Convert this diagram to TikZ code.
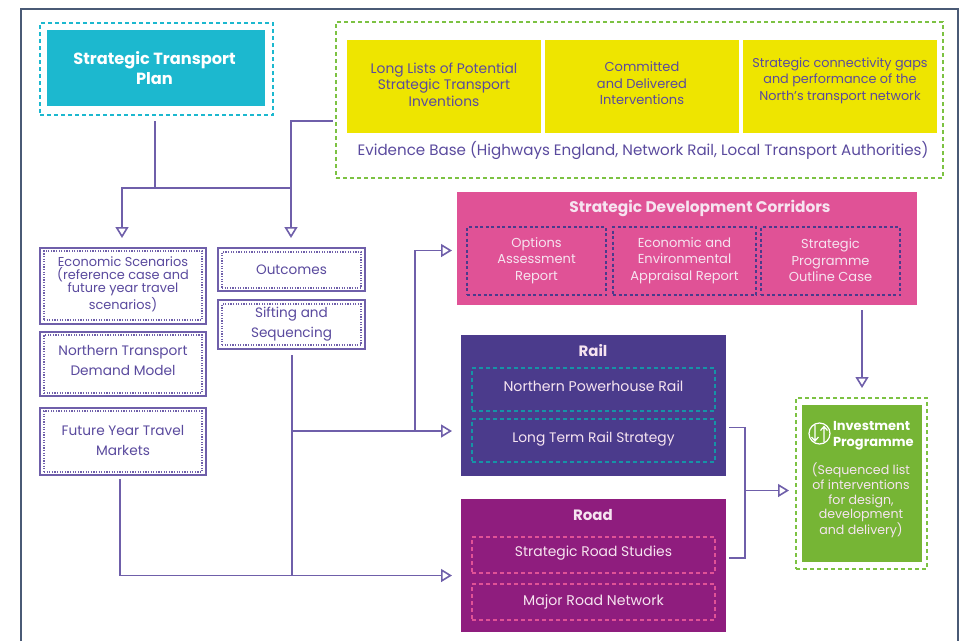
\documentclass[tikz,border=0pt]{standalone}
\usepackage{fontspec}
\setmainfont{Poppins}
\usetikzlibrary{arrows.meta,calc}
\definecolor{frameC}{HTML}{4A5A75}
\definecolor{lineC}{HTML}{6F5FAA}
\definecolor{txtC}{HTML}{5A4A9E}
\definecolor{tealC}{HTML}{1CB8CF}
\definecolor{yelC}{HTML}{EEE500}
\definecolor{pinkC}{HTML}{E05296}
\definecolor{railC}{HTML}{4B3B8C}
\definecolor{roadC}{HTML}{8F1D7E}
\definecolor{grnC}{HTML}{76B535}
\definecolor{dashG}{HTML}{7CC242}
\definecolor{softW}{HTML}{F6E4F0}
\newcommand{\fs}[2]{\fontsize{#1}{#2}\selectfont}
\newcommand{\bx}[7]{\node[#6,minimum width={#4-#2},minimum height={#5-#3}] (#1) at ({(#2+#4)/2},{(#3+#5)/2}) {#7};}
\tikzset{
 x=1pt,y=-1pt,
 every node/.style={inner sep=0pt,outer sep=0pt,align=center},
 conn/.style={draw=lineC,line width=1.6pt},
 arr/.style={conn,-{Triangle[open,fill=white,length=11pt,width=13pt,line width=1.6pt]}},
 dsh/.style={line width=1.4pt,dash pattern=on 4pt off 3pt},
 solidbox/.style={draw=lineC,line width=1.5pt,fill=white},
 dotbox/.style={draw=lineC,line width=1.2pt,dash pattern=on 1.2pt off 1.4pt},
 dd/.style={draw=railC,line width=1.4pt,dash pattern=on 3pt off 2.5pt},
 td/.style={draw=tealC!80!black,dsh},
 pd/.style={draw=pinkC,dsh},
 lab/.style={text=txtC},
 labw/.style={text=softW},
}
\begin{document}
\begin{tikzpicture}
\useasboundingbox (0,0) rectangle (962,641);
\draw[frameC,line width=2pt] (20.5,641) -- (20.5,8.5) -- (958,8.5) -- (958,641);
% strategic transport plan
\bx{stpo}{40}{23}{273}{115}{draw=tealC,dsh}{}
\bx{stp}{47}{30}{265}{106}{fill=tealC}{}
\node[text=white,font=\bfseries\fs{16.2}{20}] (stpt) at (154.5,68) {Strategic Transport\\Plan};
% evidence
\bx{evo}{336}{22}{943}{178}{draw=dashG,dsh}{}
\bx{y1}{347}{40}{541}{133}{fill=yelC}{}
\bx{y2}{545}{40}{739}{133}{fill=yelC}{}
\bx{y3}{743}{40}{937}{133}{fill=yelC}{}
\node[lab,font=\fs{13.8}{16.5}] (y1t) at (444,84.5) {Long Lists of Potential\\Strategic Transport\\Inventions};
\node[lab,font=\fs{13}{16.5}] (y2t) at (642,83.5) {Committed\\and Delivered\\Interventions};
\node[lab,font=\fs{12.8}{16.5}] (y3t) at (840,80.5) {Strategic connectivity gaps\\and performance of the\\North's transport network};
\node[lab,font=\fs{15.1}{18}] (evt) at (643,150) {Evidence Base (Highways England, Network Rail, Local Transport Authorities)};
% left boxes
\bx{eco}{40}{248}{206}{324}{solidbox}{}
\bx{eci}{44}{251}{202}{320}{dotbox}{}
\node[lab,font=\fs{12.9}{13.3}] (ect) at (123,284) {Economic Scenarios\\(reference case and\\future year travel\\scenarios)};
\bx{nto}{40}{332}{206}{396}{solidbox}{}
\bx{nti}{44}{335}{202}{393}{dotbox}{}
\node[lab,font=\fs{13.7}{20}] (ntt) at (123,360) {Northern Transport\\Demand Model};
\bx{fyo}{40}{408}{206}{475}{solidbox}{}
\bx{fyi}{44}{411}{202}{472}{dotbox}{}
\node[lab,font=\fs{13.7}{20}] (fyt) at (123,440.5) {Future Year Travel\\Markets};
\bx{ouo}{218}{248}{365}{291}{solidbox}{}
\bx{oui}{222}{252}{361}{288}{dotbox}{}
\node[lab,font=\fs{13.6}{16}] (out) at (291.5,269.5) {Outcomes};
\bx{sio}{218}{300}{365}{349}{solidbox}{}
\bx{sii}{222}{304}{361}{345}{dotbox}{}
\node[lab,font=\fs{13.6}{20}] (sit) at (291.5,324.5) {Sifting and\\Sequencing};
% SDC
\bx{sdc}{457}{192}{917}{305}{fill=pinkC}{}
\node[text=softW,font=\bfseries\fs{15.4}{18}] (sdct) at (700,208.5) {Strategic Development Corridors};
\bx{s1}{467}{227}{606}{295}{dd}{}
\bx{s2}{613}{227}{756}{295}{dd}{}
\bx{s3}{761}{227}{900}{295}{dd}{}
\node[labw,font=\fs{13}{16.5}] (s1t) at (536.5,260.5) {Options\\Assessment\\Report};
\node[labw,font=\fs{13}{16.5}] (s2t) at (684.5,260.5) {Economic and\\Environmental\\Appraisal Report};
\node[labw,font=\fs{13}{16.5}] (s3t) at (830.5,260.5) {Strategic\\Programme\\Outline Case};
% Rail
\bx{rail}{461}{335}{726}{476}{fill=railC}{}
\node[text=softW,font=\bfseries\fs{15}{18}] (railt) at (593,351) {Rail};
\bx{r1}{472}{368}{715}{411}{td}{}
\bx{r2}{472}{419}{715}{462}{td}{}
\node[labw,font=\fs{14.1}{16}] (r1t) at (593.5,386.5) {Northern Powerhouse Rail};
\node[labw,font=\fs{13.8}{16}] (r2t) at (593.5,439.5) {Long Term Rail Strategy};
% Road
\bx{road}{461}{499}{726}{632}{fill=roadC}{}
\node[text=softW,font=\bfseries\fs{15}{18}] (roadt) at (593,515) {Road};
\bx{d1}{472}{537}{715}{573}{pd}{}
\bx{d2}{472}{584}{715}{620}{pd}{}
\node[labw,font=\fs{13.9}{16}] (d1t) at (593.5,553) {Strategic Road Studies};
\node[labw,font=\fs{14.1}{16}] (d2t) at (593.5,601.5) {Major Road Network};
% investment
\bx{invo}{796}{398}{927}{569}{draw=dashG,dsh}{}
\bx{inv}{802}{405}{922}{562}{fill=grnC}{}
\node[text=white,font=\bfseries\fs{13}{16},align=left,anchor=west] (invt) at (833,435.5) {Investment\\Programme};
\node[text=softW,font=\fs{12.6}{14.7}] (invs) at (861,500.5) {(Sequenced list\\of interventions\\for design,\\development\\and delivery)};
\node[circle,draw=white,line width=1.2pt,minimum size=21pt] (icon) at (819.5,433.5) {};
\draw[white,line width=1.2pt] (824,442) -- (824,427) (820.5,430.5) -- (824,426.5) -- (827.5,430.5);
\draw[white,line width=1.2pt] (815,425) -- (815,441) (811.5,437) -- (815,441) -- (818.5,437);
% connectors
\coordinate (jt) at (155,188);
\coordinate (ev) at (291,121);
\coordinate (jr) at (291,188);
\draw[conn] (stpo.south -| jt) ++(0,6) -- (jt);
\draw[arr] (evo.west |- ev) ++(-3,0) -| (jr) -- (291,238);
\draw[arr] (jr) -- (122,188) -- (122,238);
\coordinate (v) at (292,431);
\coordinate (b) at (292,575.5);
\draw[conn] (sio.south -| v) ++(0,6) -- (b);
\draw[arr] (v) -- ($(rail.west |- v)+(-9,0)$);
\coordinate (up) at (415,431);
\draw[arr] (up) -- (415,250.5) -- ($(sdc.west |- 0,250.5)+(-5,0)$);
\draw[arr] ($(fyo.south -| 120,0)+(0,4)$) -- (120,575.5) -- ($(road.west |- b)+(-9,0)$);
\draw[arr] ($(sdc.south -| 862,0)+(0,5)$) -- (862,388);
\coordinate (m) at (745,490.5);
\draw[conn] ($(rail.east |- 0,427.5)+(3,0)$) -| (m) |- ($(road.east |- 0,558)+(3,0)$);
\draw[arr] (m) -- (789,490.5);
\end{tikzpicture}
\end{document}
